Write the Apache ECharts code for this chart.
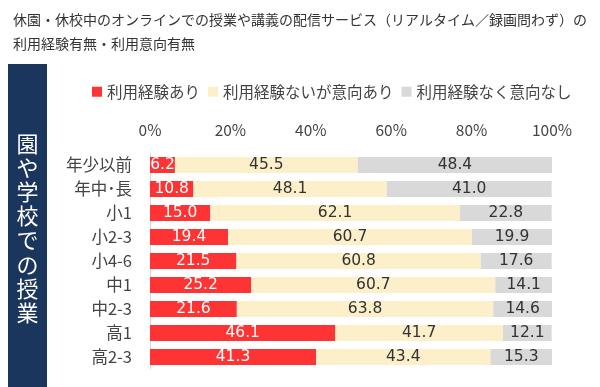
<!DOCTYPE html>
<html><head><meta charset="utf-8">
<script src="https://cdn.jsdelivr.net/npm/echarts@6/dist/echarts.min.js"></script>
<style>html,body{margin:0;padding:0;background:#fff}#c{width:600px;height:387px}</style>
</head><body><div id="c"></div>
<script>
const categories = ['年少以前','年中･長','小1','小2-3','小4-6','中1','中2-3','高1','高2-3'];
const seriesNames = ['利用経験あり','利用経験ないが意向あり','利用経験なく意向なし'];
const used = [6.2,10.8,15.0,19.4,21.5,25.2,21.6,46.1,41.3];
const intend = [45.5,48.1,62.1,60.7,60.8,60.7,63.8,41.7,43.4];
const noIntend = [48.4,41.0,22.8,19.9,17.6,14.1,14.6,12.1,15.3];
const xTicks = [0,20,40,60,80,100];

const font = '"Noto Sans CJK JP", "Noto Sans", sans-serif';
const chart = echarts.init(document.getElementById('c'));
const colors = ['#fe3334','#fdefc9','#d9d9d9'];
const labelColors = ['#ffffff','#333333','#333333'];
const datas = [used, intend, noIntend];
chart.setOption({
  animation:false,
  textStyle:{fontFamily:font},
  graphic:[
    {type:'text',left:13,top:8,style:{text:'休園・休校中のオンラインでの授業や講義の配信サービス（リアルタイム／録画問わず）の\n利用経験有無・利用意向有無',font:'14px '+font,fill:'#333',lineHeight:24}},
    {type:'rect',shape:{x:8,y:64,width:39,height:323},style:{fill:'#1b365d'}},
    {type:'text',x:27.5,y:228,style:{text:'園\nや\n学\n校\nで\nの\n授\n業',font:'22px '+font,fill:'#fff',align:'center',verticalAlign:'middle',lineHeight:24.1}}
  ],
  legend:{
    top:79, left:87, itemWidth:10, itemHeight:10, itemGap:8,
    icon:'rect',
    textStyle:{fontSize:15.5,color:'#444',fontFamily:font,padding:[0,0,0,0]},
    data:seriesNames
  },
  grid:{left:150,top:153,width:402,height:216,containLabel:false},
  xAxis:{
    type:'value',position:'top',min:0,max:100,interval:20,
    axisLabel:{formatter:v=>v+'%',fontSize:15.5,color:'#444',margin:15,fontFamily:font},
    splitLine:{show:false},axisLine:{show:false},axisTick:{show:false}
  },
  yAxis:{
    type:'category',inverse:true,data:categories,
    axisLine:{show:true,lineStyle:{color:'#d9d9d9',width:1}},
    axisTick:{show:false},
    axisLabel:{fontSize:16.5,color:'#444',margin:18,fontFamily:font}
  },
  series:datas.map((d,i)=>({
    name:seriesNames[i],type:'bar',stack:'all',data:d,barWidth:16,
    itemStyle:{color:colors[i]},
    label:{show:true,position:'inside',formatter:p=>p.value.toFixed(1),fontSize:15.5,color:labelColors[i],fontFamily:'Verdana, "DejaVu Sans", sans-serif'}
  }))
});
</script></body></html>
